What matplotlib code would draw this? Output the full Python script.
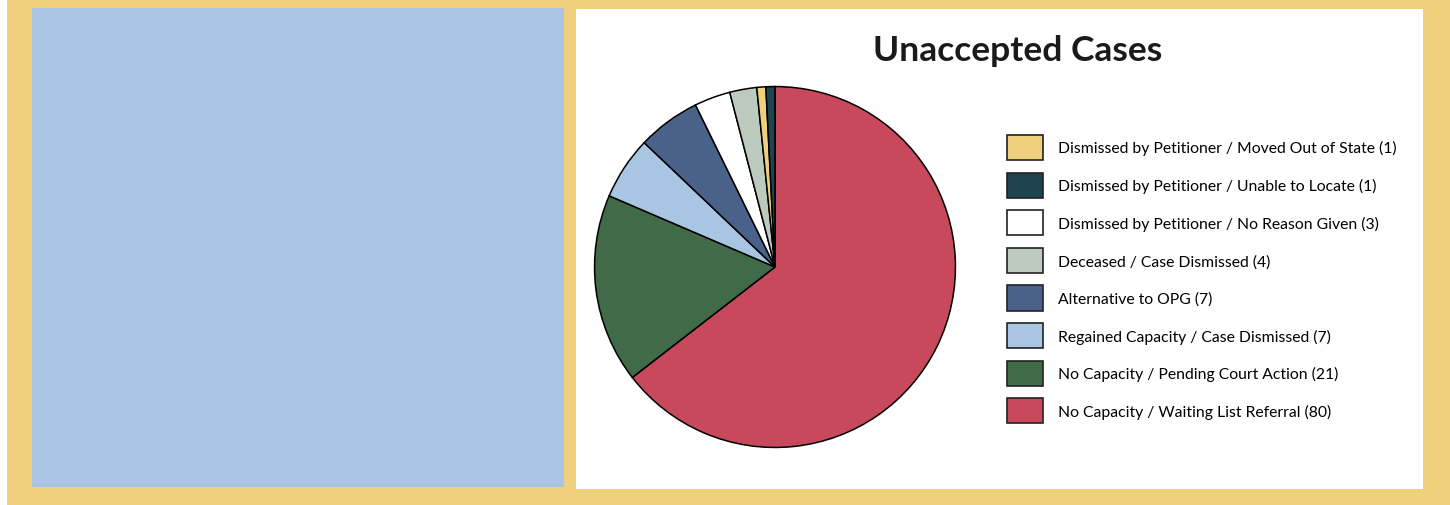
import matplotlib.pyplot as plt
from matplotlib.patches import Rectangle, Patch

# case outcomes, in legend order
labels = [
    "Dismissed by Petitioner / Moved Out of State",
    "Dismissed by Petitioner / Unable to Locate",
    "Dismissed by Petitioner / No Reason Given",
    "Deceased / Case Dismissed",
    "Alternative to OPG",
    "Regained Capacity / Case Dismissed",
    "No Capacity / Pending Court Action",
    "No Capacity / Waiting List Referral",
]
counts = [1, 1, 3, 4, 7, 7, 21, 80]
colors = ["#EFD07C", "#1F4451", "#FFFFFF", "#BCCBBE",
          "#4A6189", "#A8C5E1", "#416B48", "#C8495C"]

# pie runs clockwise from the top, largest first; the small wedges
# carry the colours in this order
pie_values = counts[::-1]
pie_colors = ["#C8495C", "#416B48", "#A8C5E1", "#4A6189",
              "#FFFFFF", "#BCCBBE", "#EFD07C", "#1F4451"]

W, H = 1450, 506
fig = plt.figure(figsize=(W / 100, H / 100), dpi=100)
fig.patch.set_facecolor("#EFD07C")

def px_rect(x0, y0, x1, y1, color):
    # rectangle given in pixel coords (top-left origin)
    fig.patches.append(Rectangle((x0 / W, 1 - y1 / H), (x1 - x0) / W, (y1 - y0) / H,
                                 transform=fig.transFigure, facecolor=color,
                                 edgecolor="none", zorder=-1))

px_rect(0, 0, 7, H, "white")
px_rect(32, 9, 564, 488, "#A8C5E1")
px_rect(576, 10, 1423, 490, "white")

fig.text(1018 / W, 1 - 51 / H, "Unaccepted Cases", ha="center", va="center",
         fontsize=25.5, fontweight="bold", family="Lato", color="#1a1a1a")

cx, cy, r = 775, 268, 181
ax = fig.add_axes([(cx - r) / W, 1 - (cy + r) / H, 2 * r / W, 2 * r / H])
ax.pie(pie_values, colors=pie_colors,
       startangle=90, counterclock=False,
       wedgeprops=dict(edgecolor="black", linewidth=1.1))
ax.set_xlim(-1.003, 1.003)
ax.set_ylim(-1.003, 1.003)
ax.set_aspect("equal")
ax.axis("off")

handles = [Patch(facecolor=c, edgecolor="#222222", linewidth=1.2) for c in colors]
leg_labels = [f"{l} ({n})" for l, n in zip(labels, counts)]
fig.legend(handles, leg_labels, loc="upper left",
           bbox_to_anchor=(1007 / W, 1 - 136 / H),
           frameon=False, prop={"family": "Lato", "size": 11.3},
           handlelength=2.3, handleheight=2.08, handletextpad=0.97,
           labelspacing=0.8, borderaxespad=0, borderpad=0)

fig.savefig("out.png", dpi=100, facecolor=fig.get_facecolor())
